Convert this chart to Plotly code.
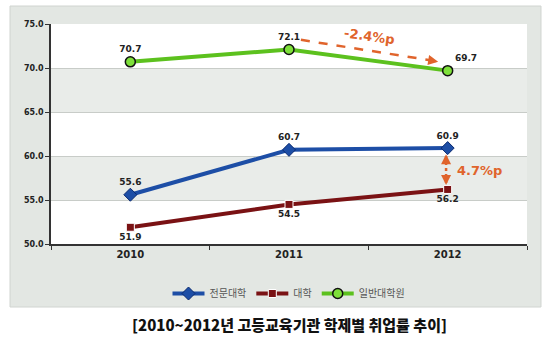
import plotly.graph_objects as go

years = ["2010", "2011", "2012"]
junior = [55.6, 60.7, 60.9]      # 전문대학
univ = [51.9, 54.5, 56.2]        # 대학
grad = [70.7, 72.1, 69.7]        # 일반대학원
series_names = ["전문대학", "대학", "일반대학원"]
y_ticks = [50, 55, 60, 65, 70, 75]

ORANGE = "#e0642c"
PANEL = "#e3e7e3"
fnum = "DejaVu Sans"
fkr = "Noto Sans CJK KR"

fig = go.Figure()

lab_font = dict(family=fnum, size=9, color="#222", weight="bold")

fig.add_trace(go.Scatter(
    x=years, y=junior, name=series_names[0], mode="lines+markers+text",
    line=dict(color="#1d4ea6", width=4),
    marker=dict(symbol="diamond", size=10, color="#1d4ea6", line=dict(color="#0a2a70", width=1)),
    text=[f"{v:.1f}" for v in junior], textposition="top center",
    textfont=lab_font,
))
fig.add_trace(go.Scatter(
    x=years, y=univ, name=series_names[1], mode="lines+markers+text",
    line=dict(color="#7a1214", width=4),
    marker=dict(symbol="square", size=8, color="#7a1214", line=dict(color="#ffffff", width=1)),
    text=[f"{v:.1f}" for v in univ], textposition="bottom center",
    textfont=lab_font,
))
fig.add_trace(go.Scatter(
    x=years, y=grad, name=series_names[2], mode="lines+markers+text",
    line=dict(color="#5cc11e", width=4),
    marker=dict(symbol="circle", size=10, color="#7ee03a", line=dict(color="#111", width=1.5)),
    text=[f"{v:.1f}" for v in grad], textposition=["top center", "top center", "top right"],
    textfont=lab_font,
))

shapes = []
# outer panel
shapes.append(dict(type="rect", xref="paper", yref="paper", x0=-0.0861, x1=1.0294,
                   y0=-0.2864, y1=1.0818, fillcolor=PANEL, line=dict(color="#d0d4d0", width=1),
                   layer="below"))
# stripes
for lo in [50, 60, 70]:
    shapes.append(dict(type="rect", xref="paper", yref="y", x0=0, x1=1, y0=lo, y1=lo + 5,
                       fillcolor="#ffffff", line=dict(width=0), layer="below"))
for lo in [55, 65]:
    shapes.append(dict(type="rect", xref="paper", yref="y", x0=0, x1=1, y0=lo, y1=lo + 5,
                       fillcolor="#e9ece9", line=dict(width=0), layer="below"))
# dashed arrow -2.4%p
shapes.append(dict(type="line", xref="x", yref="y", x0=1.075, y0=73.2, x1=1.90, y1=70.85,
                   line=dict(color=ORANGE, width=2.5, dash="dash")))
# dotted vertical arrow 4.7%p
shapes.append(dict(type="line", xref="x", yref="y", x0=1.99, y0=60.0, x1=1.99, y1=56.9,
                   line=dict(color=ORANGE, width=2.5, dash="dot")))

annotations = [
    dict(x=1.94, y=70.72, ax=1.88, ay=70.9, xref="x", yref="y", axref="x", ayref="y",
         showarrow=True, arrowhead=2, arrowsize=1, arrowwidth=2, arrowcolor=ORANGE, text=""),
    dict(x=1.99, y=60.2, ax=1.99, ay=59.6, xref="x", yref="y", axref="x", ayref="y",
         showarrow=True, arrowhead=2, arrowsize=1, arrowwidth=2, arrowcolor=ORANGE, text=""),
    dict(x=1.99, y=56.7, ax=1.99, ay=57.3, xref="x", yref="y", axref="x", ayref="y",
         showarrow=True, arrowhead=2, arrowsize=1, arrowwidth=2, arrowcolor=ORANGE, text=""),
    dict(x=1.51, y=73.6, xref="x", yref="y", showarrow=False, text="<b>-2.4%p</b>",
         textangle=8, font=dict(family=fnum, size=13, color=ORANGE)),
    dict(x=2.2, y=58.3, xref="x", yref="y", showarrow=False, text="<b>4.7%p</b>",
         font=dict(family=fnum, size=13, color=ORANGE)),
    dict(x=0.5, y=-0.368, xref="paper", yref="paper", showarrow=False,
         xanchor="center", yanchor="middle",
         text="[2010~2012년 고등교육기관 학제별 취업률 추이]",
         font=dict(family=fkr, size=15, color="#111", weight=900)),
]

fig.update_layout(
    width=550, height=338,
    margin=dict(l=51, r=23, t=24, b=94),
    paper_bgcolor="#ffffff", plot_bgcolor="rgba(0,0,0,0)",
    shapes=shapes, annotations=annotations,
    showlegend=True,
    legend=dict(orientation="h", x=0.5, xanchor="center", y=-0.225, yanchor="middle",
                font=dict(family=fkr, size=10, color="#555"), bgcolor="rgba(0,0,0,0)",
                itemwidth=32),
    xaxis=dict(type="category", range=[-0.5, 2.5], tickson="boundaries", ticks="outside",
               ticklen=4, tickcolor="#333", showline=True, linecolor="#333", linewidth=1.5,
               showgrid=False, tickfont=dict(family=fnum, size=10, color="#222", weight="bold")),
    yaxis=dict(range=[50, 75], tickvals=y_ticks, tickformat=".1f", ticks="outside",
               ticklen=4, tickcolor="#333", showline=True, linecolor="#333", linewidth=1.5,
               showgrid=True, gridcolor="#c8ccc8", gridwidth=1, zeroline=False,
               tickfont=dict(family=fnum, size=8, color="#222", weight="bold")),
)

fig.write_html("out.html")
